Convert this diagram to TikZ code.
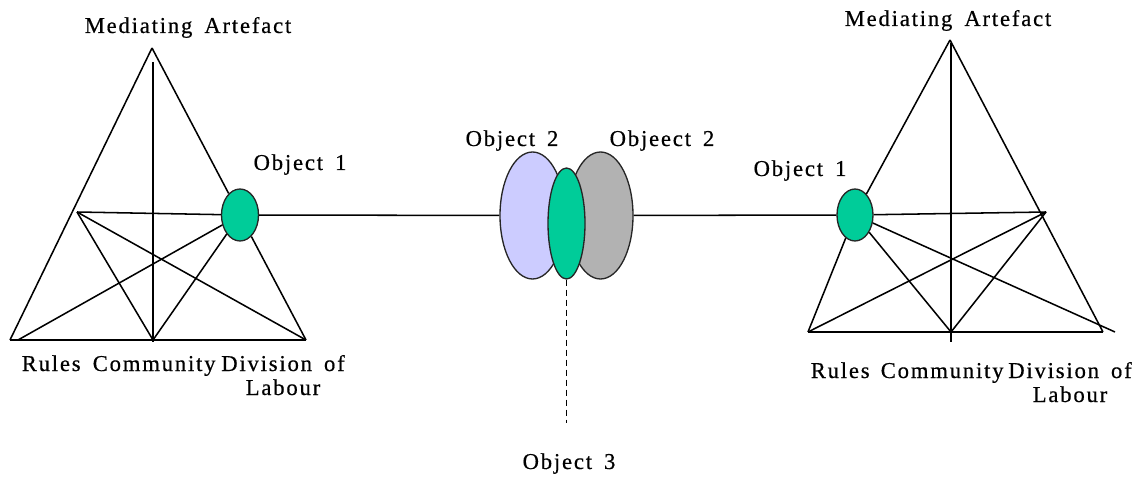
\documentclass[tikz,border=0pt]{standalone}
\usepackage{fontspec}
\setmainfont{Liberation Serif}
\newfontfamily\lblfont{Liberation Serif}[LetterSpace=8,WordSpace=1.6,FakeBold=0.5]
\usetikzlibrary{shapes.geometric}
\definecolor{objgreen}{RGB}{0,204,153}
\definecolor{objblue}{RGB}{204,204,255}
\definecolor{objgrey}{RGB}{178,178,178}
\tikzset{
  lbl/.style={font=\lblfont\fontsize{17}{18}\selectfont, inner sep=0pt, anchor=base},
  blob/.style={ellipse, draw=black!85, line width=1pt, inner sep=0pt},
}

\begin{document}
\begin{tikzpicture}[x=0.75pt,y=-0.75pt,line width=1.15pt]
        \useasboundingbox (0,0) rectangle (1135,477);
        % left triangle
        \coordinate (la) at (152,48);
        \coordinate (lbl) at (10,340);
        \coordinate (lbr) at (306,340);
        \coordinate (lbc) at (153,340);
        \coordinate (lrl) at (18,340);
        \coordinate (ltop) at (153,62);
        \coordinate (lbot) at (153,342);
        \coordinate (lh) at (77,212);
        \node [blob, fill=objgreen, minimum width=27.75pt, minimum height=39pt] (lobj) at (240,215) {};
        % middle objects
        \node [blob, fill=objblue, minimum width=48.75pt, minimum height=95.25pt] (o2a) at (532.5,215.5) {};
        \node [blob, fill=objgrey, minimum width=48.75pt, minimum height=95.25pt] (o2b) at (600.5,215.5) {};
        \node [blob, fill=objgreen, minimum width=27.75pt, minimum height=83.25pt] (o3) at (566.5,223.5) {};
        \coordinate (o3end) at (566.5,423);
        % right triangle
        \coordinate (ra) at (950,40);
        \coordinate (rbl) at (808,332);
        \coordinate (rbr) at (1103,332);
        \coordinate (rbc) at (951,332);
        \coordinate (rext) at (1115,332);
        \coordinate (rtop) at (951,43);
        \coordinate (rbot) at (951,342);
        \coordinate (rh) at (1046,212);
        \node [blob, fill=objgreen, minimum width=27pt, minimum height=39pt] (robj) at (855,215) {};
        % labels
        \node [lbl] (lma) at (188,33) {Mediating Artefact};
        \node [lbl] (lo1) at (300,170) {Object 1};
        \node [lbl, anchor=base west] (lru) at (21,371) {Rules};
        \node [lbl, anchor=base west] (lco) at (92,371) {Community};
        \node [lbl, align=center] (ldl) at (283,395) {Division of\\Labour};
        \node [lbl] (o2al) at (512,146) {Object 2};
        \node [lbl] (o2bl) at (662,146) {Objeect 2};
        \node [lbl] (o3l) at (569,469) {Object 3};
        \node [lbl] (rma) at (948,26) {Mediating Artefact};
        \node [lbl] (ro1) at (800,176) {Object 1};
        \node [lbl, anchor=base west] (rru) at (810,378) {Rules};
        \node [lbl, anchor=base west] (rco) at (880,378) {Community};
        \node [lbl, align=center] (rdl) at (1070,402) {Division of\\Labour};
        % left lines
        \draw [-] (la) to (lbl);
        \draw [-] (la) to (lobj);
        \draw [-] (lobj) to (lbr);
        \draw [-] (lbl) to (lbr);
        \draw [-] (ltop) to (lbot);
        \draw [-] (lh) to (lobj);
        \draw [-] (lh) to (lbc);
        \draw [-] (lh) to (lbr);
        \draw [-] (lrl) to (lobj);
        \draw [-] (lbc) to (lobj);
        % middle lines
        \draw [-] (lobj) to (o2a);
        \draw [-] (o2b) to (robj);
        \draw [dash pattern=on 5pt off 2.5pt] (o3) to (o3end);
        % right lines
        \draw [-] (ra) to (robj);
        \draw [-] (robj) to (rbl);
        \draw [-] (ra) to (rbr);
        \draw [-] (rbl) to (rbr);
        \draw [-] (rtop) to (rbot);
        \draw [-] (robj) to (rh);
        \draw [-] (robj) to (rbc);
        \draw [-] (robj) to (rext);
        \draw [-] (rbl) to (rh);
        \draw [-] (rbc) to (rh);
      \end{tikzpicture}
\end{document}
